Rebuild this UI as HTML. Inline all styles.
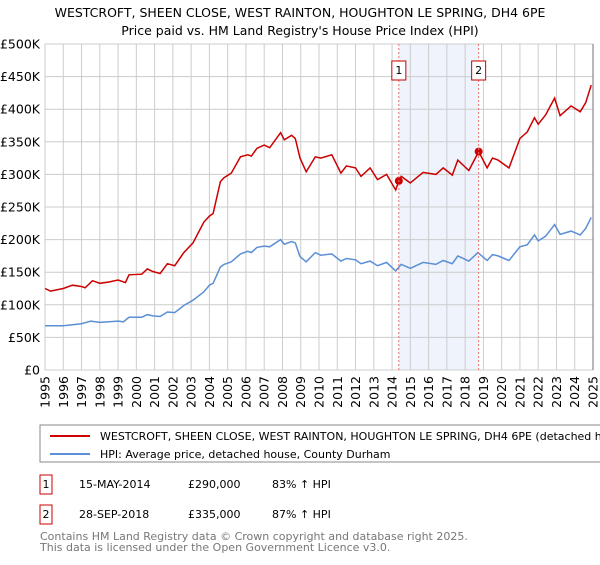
<!DOCTYPE html>
<html><head><meta charset="utf-8"><style>
body{margin:0;background:#fff;font-family:"Liberation Sans","DejaVu Sans",sans-serif;}
svg text{font-family:"DejaVu Sans","Liberation Sans",sans-serif;}
</style></head><body>
<svg id="c" width="600" height="560" xmlns="http://www.w3.org/2000/svg">
<text x="300" y="17" text-anchor="middle" font-size="12.5" fill="#000">WESTCROFT, SHEEN CLOSE, WEST RAINTON, HOUGHTON LE SPRING, DH4 6PE</text>
<text x="300" y="35" text-anchor="middle" font-size="12.5" fill="#000">Price paid vs. HM Land Registry's House Price Index (HPI)</text>
<g id="grid"></g><g id="series"></g><g id="ann"></g>
<rect x="40" y="425" width="570" height="37" fill="#fff" stroke="#888"/>
<line x1="50" y1="436" x2="90" y2="436" stroke="#cc0000" stroke-width="2"/>
<text x="100" y="440" font-size="11">WESTCROFT, SHEEN CLOSE, WEST RAINTON, HOUGHTON LE SPRING, DH4 6PE (detached house)</text>
<line x1="50" y1="454" x2="90" y2="454" stroke="#5b8fd6" stroke-width="2"/>
<text x="100" y="458" font-size="11">HPI: Average price, detached house, County Durham</text>
<rect x="40" y="475" width="12" height="19" fill="#fff" stroke="#cc0000"/>
<text x="46" y="488" text-anchor="middle" font-size="11">1</text>
<text x="79" y="488" font-size="11">15-MAY-2014</text>
<text x="188" y="488" font-size="11">£290,000</text>
<text x="272" y="488" font-size="11">83% ↑ HPI</text>
<rect x="40" y="505" width="12" height="19" fill="#fff" stroke="#cc0000"/>
<text x="46" y="518" text-anchor="middle" font-size="11">2</text>
<text x="79" y="518" font-size="11">28-SEP-2018</text>
<text x="188" y="518" font-size="11">£335,000</text>
<text x="272" y="518" font-size="11">87% ↑ HPI</text>
<text x="40" y="540" font-size="11" fill="#777">Contains HM Land Registry data © Crown copyright and database right 2025.</text>
<text x="40" y="551" font-size="11" fill="#777">This data is licensed under the Open Government Licence v3.0.</text>
</svg>
<script>
const hpiYears=[1995,1996,1997,1997.5,1998,1999,1999.3,1999.6,2000.3,2000.6,2000.9,2001.3,2001.7,2002.1,2002.6,2003.1,2003.7,2004.0,2004.2,2004.6,2004.8,2005.2,2005.7,2006.1,2006.3,2006.6,2007.0,2007.3,2007.9,2008.1,2008.5,2008.7,2008.96,2009.3,2009.8,2010.1,2010.7,2011.2,2011.5,2012.0,2012.3,2012.8,2013.2,2013.7,2014.2,2014.5,2015.0,2015.7,2016.4,2016.8,2017.3,2017.6,2018.2,2018.7,2019.2,2019.5,2019.8,2020.4,2021.0,2021.4,2021.8,2022.0,2022.4,2022.9,2023.2,2023.8,2024.3,2024.6,2024.9];
const hpiValues=[68,68,71,75,73,75,74,81,81,85,83,82,89,88,99,107,120,130,133,158,162,166,178,182,180,188,190,189,200,193,197,195,174,166,180,176,178,167,171,169,163,167,160,165,152,162,156,165,162,168,163,175,167,180,168,177,175,168,189,192,207,198,205,223,208,213,207,217,234];
const priceYears=[1995,1995.3,1996,1996.5,1997,1997.2,1997.6,1998,1998.5,1999,1999.4,1999.6,2000.3,2000.6,2000.9,2001.3,2001.7,2002.1,2002.6,2003.1,2003.7,2004.0,2004.2,2004.6,2004.8,2005.2,2005.7,2006.1,2006.3,2006.6,2007.0,2007.3,2007.9,2008.1,2008.5,2008.7,2008.96,2009.3,2009.8,2010.1,2010.7,2011.2,2011.5,2012.0,2012.3,2012.8,2013.2,2013.7,2014.2,2014.37,2014.5,2015.0,2015.7,2016.4,2016.8,2017.3,2017.6,2018.2,2018.74,2019.2,2019.5,2019.8,2020.4,2021.0,2021.4,2021.8,2022.0,2022.4,2022.9,2023.2,2023.8,2024.3,2024.6,2024.9];
const priceValues=[125,121,125,130,128,126,137,133,135,138,134,146,147,155,151,148,163,160,180,195,227,236,240,289,295,302,327,330,328,340,345,341,364,353,360,355,325,304,327,325,330,302,313,310,297,310,292,300,276,290,297,287,303,300,310,299,322,306,335,310,325,322,310,355,365,387,377,391,417,390,405,396,410,437];
const saleYears=[2014.37,2018.74];
const saleValues=[290,335];
const saleLabels=["1","2"];
const yTicks=[0,50,100,150,200,250,300,350,400,450,500];
const yTickLabels=["£0","£50K","£100K","£150K","£200K","£250K","£300K","£350K","£400K","£450K","£500K"];
const xTicks=[1995,1996,1997,1998,1999,2000,2001,2002,2003,2004,2005,2006,2007,2008,2009,2010,2011,2012,2013,2014,2015,2016,2017,2018,2019,2020,2021,2022,2023,2024,2025];

const NS="http://www.w3.org/2000/svg";
const X0=45,X1=593,Y0=370,Y1=44;
const xs=y=>X0+(y-1995)/30*(X1-X0);
const ys=v=>Y0-v/500*(Y0-Y1);
function mk(tag,attrs,parent){const e=document.createElementNS(NS,tag);for(const k in attrs)e.setAttribute(k,attrs[k]);parent.appendChild(e);return e;}
const grid=document.getElementById('grid'),ser=document.getElementById('series'),ann=document.getElementById('ann');
// shaded band
let band=mk('rect',{x:xs(saleYears[0]),y:Y1,width:xs(saleYears[1])-xs(saleYears[0]),height:Y0-Y1,fill:'#eef3fc'},grid);


yTicks.forEach((t,i)=>{
 let l=mk('line',{x1:X0,x2:X1,y1:ys(t),y2:ys(t),stroke:'#cccccc','stroke-width':1},grid);
 
 
 let tx=mk('text',{x:40,y:ys(t)+4.5,'text-anchor':'end','font-size':12.5,fill:'#000'},grid);
 tx.textContent=yTickLabels[i];
 
 
});
xTicks.forEach(t=>{
 let l=mk('line',{x1:xs(t),x2:xs(t),y1:Y1,y2:Y0,stroke:'#cccccc','stroke-width':1},grid);
 
 
 let tx=mk('text',{x:0,y:0,'text-anchor':'end','font-size':12.5,fill:'#000',transform:`translate(${xs(t)+4.5},376) rotate(-90)`},grid);
 tx.textContent=t;
 
 
});
let ax=mk('line',{x1:X1,x2:X1,y1:Y1,y2:Y0,stroke:'#888','stroke-width':1.2},grid);


saleYears.forEach((s,i)=>{
 let l=mk('line',{x1:xs(s),x2:xs(s),y1:Y1,y2:Y0,stroke:'#f07070','stroke-width':1,'stroke-dasharray':'2,2'},ann);
 
 
 let b=mk('rect',{x:xs(s)-7,y:61,width:14,height:19,fill:'#fff',stroke:'#cc0000'},ann);
 
 
 let t=mk('text',{x:xs(s),y:74,'text-anchor':'middle','font-size':11},ann);
 t.textContent=saleLabels[i];
 
 
});
function path(xa,va){return xa.map((y,i)=>(i?'L':'M')+xs(y).toFixed(1)+','+ys(va[i]).toFixed(1)).join('');}
let hp=mk('path',{d:path(hpiYears,hpiValues),fill:'none',stroke:'#5b8fd6','stroke-width':1.5},ser);


let pp=mk('path',{d:path(priceYears,priceValues),fill:'none',stroke:'#cc0000','stroke-width':1.5},ser);


saleYears.forEach((s,i)=>{
 let c=mk('circle',{cx:xs(s),cy:ys(saleValues[i]),r:4,fill:'#cc0000'},ser);
 
 
});
</script>
</body></html>
